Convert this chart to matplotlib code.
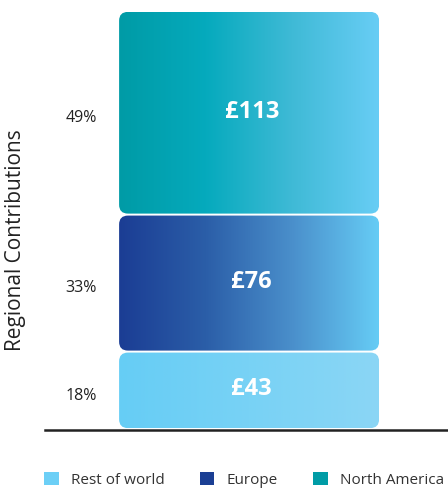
import matplotlib
matplotlib.use("Agg")
import matplotlib.pyplot as plt
import numpy as np
from matplotlib.colors import LinearSegmentedColormap
from matplotlib.patches import FancyBboxPatch, Patch

plt.rcParams['font.family'] = ['Open Sans', 'DejaVu Sans']

regions = ["Rest of world", "Europe", "North America"]
values = [43, 76, 113]
value_labels = ["£43", "£76", "£113"]
pct_labels = ["18%", "33%", "49%"]
legend_colors = ["#6ccff6", "#1b3f94", "#009ca6"]
gradients = [
    ["#66cdf5", "#78d2f5", "#8bd6f5"],
    ["#1b3d94", "#2b5ea8", "#4a8fcb", "#66ccf5"],
    ["#009ba6", "#05aabd", "#3fbad6", "#68cdf5"],
]

fig = plt.figure(figsize=(4.48, 4.88), dpi=100)
ax = fig.add_axes([45/448, 58/488, 403/448, 420/488])
ax.set_xlim(-0.785, 0.765)
ax.set_ylim(-0.5, 232.5)
for s in ["top", "right", "left"]:
    ax.spines[s].set_visible(False)
ax.spines["bottom"].set_linewidth(1.8)
ax.spines["bottom"].set_color("#222222")
ax.set_xticks([])
ax.set_yticks([])

px_x = 260.0
px_y = 420 / 233
aspect = px_x / px_y
gap = 1.1
bottom = 0
for v, lab, pct, grad in zip(values, value_labels, pct_labels, gradients):
    y0 = bottom + gap / 2
    h = v - gap
    patch = FancyBboxPatch((-0.5, y0), 1.0, h,
                           boxstyle="round,pad=0,rounding_size=0.034",
                           mutation_aspect=aspect,
                           facecolor="none", edgecolor="none")
    ax.add_patch(patch)
    cmap = LinearSegmentedColormap.from_list("g", grad)
    grad_img = np.linspace(0, 1, 256).reshape(1, -1)
    im = ax.imshow(grad_img, cmap=cmap, extent=(-0.5, 0.5, y0, y0 + h),
                   aspect="auto", interpolation="bicubic", zorder=2)
    im.set_clip_path(patch)
    cy = bottom + v / 2
    ax.text(0.01, cy + 2.2, lab, color="white", fontsize=17, fontweight="bold",
            ha="center", va="center_baseline", zorder=3)
    ax.text(-0.585, cy - 1.8, pct, color="#222222", fontsize=11.5,
            ha="right", va="center_baseline")
    bottom += v

fig.text(16/448, 1 - 240/488, "Regional Contributions", rotation=90,
         fontsize=15, color="#222222", ha="center", va="center")

handles = [Patch(facecolor=c, edgecolor="none") for c in legend_colors]
fig.legend(handles, regions, loc="center", bbox_to_anchor=(0.545, 1 - 480/488),
           ncol=3, frameon=False, fontsize=11, handlelength=0.95,
           handleheight=0.95, columnspacing=2.3, handletextpad=0.8,
           labelcolor="#333333")

fig.savefig("out.png", dpi=100)
